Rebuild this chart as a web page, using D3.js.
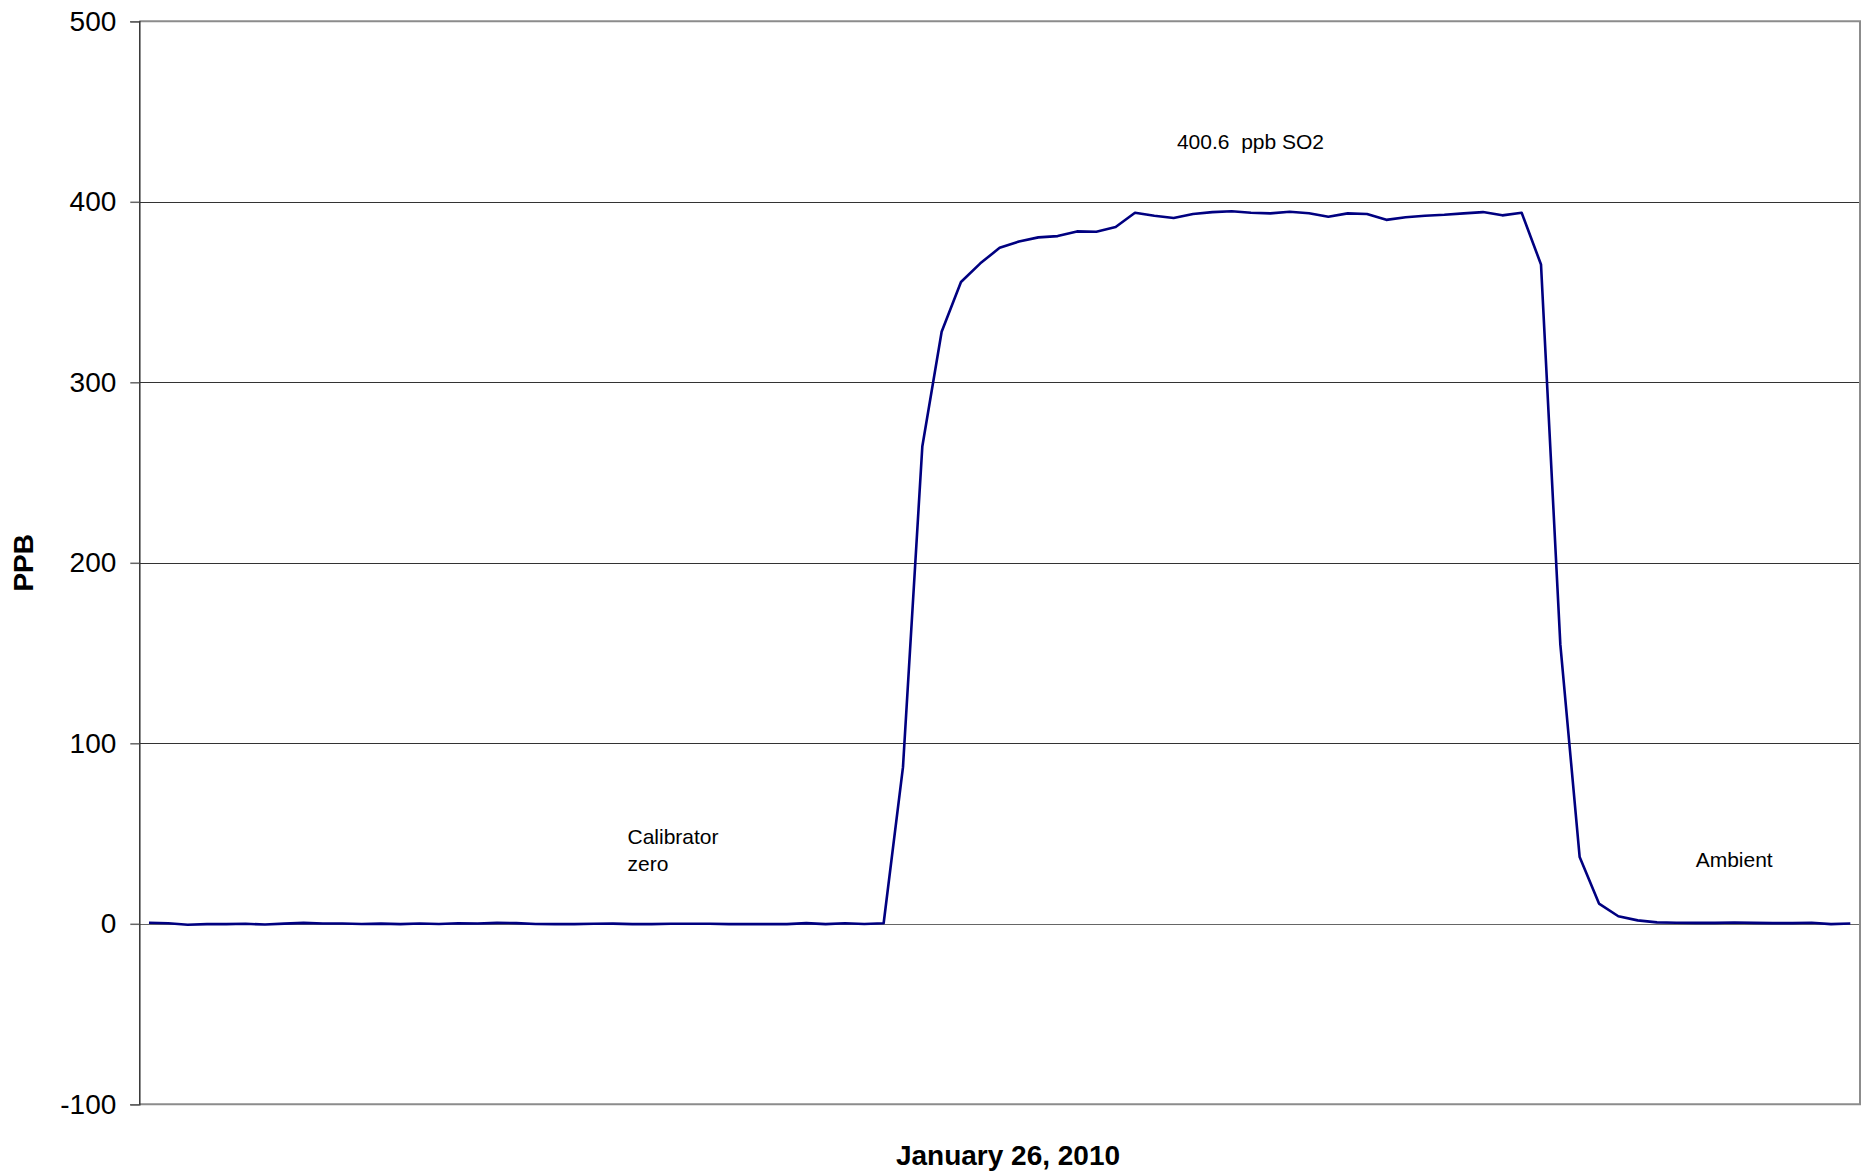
<!DOCTYPE html>
<html>
<head>
<meta charset="utf-8">
<script src="https://cdn.jsdelivr.net/npm/d3@7"></script>
<style>
  body { margin: 0; background: #fff; }
  svg { display: block; font-family: Arial, "Liberation Sans", sans-serif; }
</style>
</head>
<body>
<svg id="chart"></svg>
<script>
const WIDTH = 1868;
const HEIGHT = 1174;

// SO2 readings in ppb, one per sample (89 samples)
const ZERO_PHASE = [0.6, 0.3, -0.5, -0.2, -0.2, 0, -0.4, 0.1, 0.5, 0.2,
    0.2, -0.1, 0.1, -0.2, 0.2, -0.1, 0.3, 0.2, 0.5, 0.4,
    -0.1, -0.2, -0.2, 0, 0.1, -0.2, -0.2, 0, 0, 0,
    -0.2, -0.2, -0.2, -0.2, 0.4, -0.2, 0.3, -0.1, 0.3];
const SPAN_PHASE = [86.8, 264.4, 328, 355.6, 365.9, 374.5, 378, 380.3, 381, 383.6,
    383.4, 386, 393.9, 392.3, 391, 393.2, 394.3, 394.8, 393.9, 393.6,
    394.5, 393.7, 391.7, 393.6, 393.2, 390, 391.4, 392.3, 392.8, 393.6,
    394.3, 392.5, 393.9, 365.3, 154.8, 37, 11.2, 4.2, 1.9];
const AMBIENT_PHASE = [0.8, 0.6, 0.5, 0.5, 0.7, 0.5, 0.4, 0.4, 0.6, -0.2, 0.2];

const Y_TICKS = [-100, 0, 100, 200, 300, 400, 500];
const Y_LABEL = "PPB";
const X_LABEL = "January 26, 2010";

const NOTES = [
    {lines: ["400.6  ppb SO2"], index: 53.17, value: 429},
    {lines: ["Calibrator", "zero"], index: 24.75, value: 44.3},
    {lines: ["Ambient"], index: 80.0, value: 31.3}
];

const values = [...ZERO_PHASE, ...SPAN_PHASE, ...AMBIENT_PHASE];
const data = values.map((v, i) => ({i: i, v: v}));

const margin = {left: 139.3, right: 8, top: 21.3, bottom: 69.7};

const svg = d3.select("#chart")
    .attr("width", WIDTH)
    .attr("height", HEIGHT);

const x = d3.scalePoint()
    .domain(data.map(d => d.i))
    .range([margin.left, WIDTH - margin.right])
    .padding(0.5);

// fractional index for annotation placement
const step = x.step();
const xAt = idx => x(0) + idx * step;

const y = d3.scaleLinear()
    .domain([-100, 500])
    .range([HEIGHT - margin.bottom, margin.top]);

// grid lines
svg.append("g")
    .selectAll("line")
    .data(Y_TICKS.filter(t => t > -100 && t < 500))
    .enter()
    .append("line")
    .attr("x1", margin.left)
    .attr("x2", WIDTH - margin.right)
    .attr("y1", d => Math.round(y(d)) + 0.5)
    .attr("y2", d => Math.round(y(d)) + 0.5)
    .attr("stroke", d => d === 0 ? "#666" : "#333")
    .attr("stroke-width", 1);

// plot frame (top, right, bottom)
svg.append("path")
    .attr("d", `M${margin.left},${margin.top}H${WIDTH - margin.right}V${HEIGHT - margin.bottom}H${margin.left}`)
    .attr("fill", "none")
    .attr("stroke", "#8c8c8c")
    .attr("stroke-width", 2);

// y axis
const yAxis = svg.append("g")
    .attr("transform", `translate(${margin.left},0)`)
    .call(d3.axisLeft(y).tickValues(Y_TICKS).tickSize(9).tickPadding(14).tickFormat(d => String(d)));
yAxis.select(".domain").attr("stroke", "#333").attr("stroke-width", 1.5);
yAxis.selectAll(".tick line").attr("stroke", "#666").attr("stroke-width", 1.5);
yAxis.selectAll(".tick text")
    .attr("font-size", 28)
    .attr("font-family", "Arial, 'Liberation Sans', sans-serif")
    .attr("fill", "#000");

// the series
const line = d3.line()
    .x(d => x(d.i))
    .y(d => y(d.v));

svg.append("path")
    .datum(data)
    .attr("d", line)
    .attr("fill", "none")
    .attr("stroke", "#000080")
    .attr("stroke-width", 2.6)
    .attr("stroke-linejoin", "round");

// annotations
NOTES.forEach(n => {
    const t = svg.append("text")
        .attr("x", xAt(n.index))
        .attr("y", y(n.value))
        .attr("font-size", 21)
        .attr("fill", "#000")
        .style("white-space", "pre");
    n.lines.forEach((l, k) => {
        t.append("tspan")
            .attr("x", xAt(n.index))
            .attr("dy", k === 0 ? 0 : 27)
            .text(l);
    });
});

// axis titles
svg.append("text")
    .attr("transform", `translate(33,${(margin.top + HEIGHT - margin.bottom) / 2}) rotate(-90)`)
    .attr("text-anchor", "middle")
    .attr("font-size", 28)
    .attr("font-weight", "bold")
    .text(Y_LABEL);

svg.append("text")
    .attr("x", 1008)
    .attr("y", 1165)
    .attr("text-anchor", "middle")
    .attr("font-size", 28)
    .attr("font-weight", "bold")
    .text(X_LABEL);
</script>
</body>
</html>
